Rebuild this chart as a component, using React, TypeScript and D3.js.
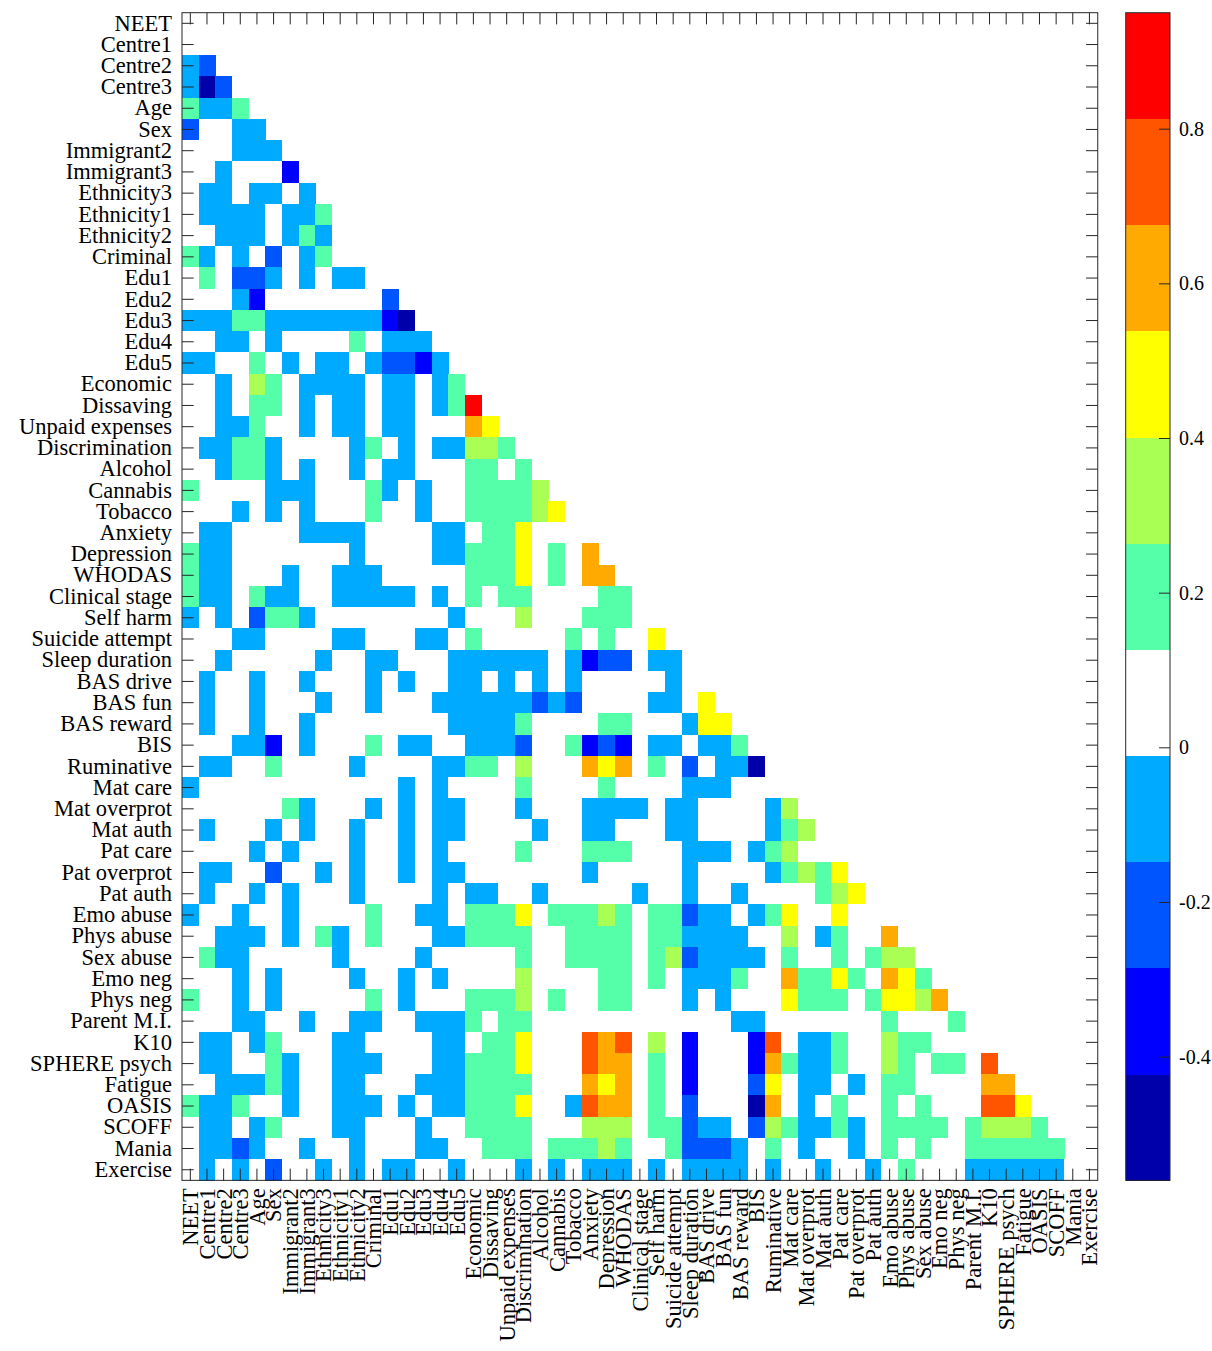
import React, { useRef, useEffect } from 'react';
import * as d3 from 'd3';

// Variable order (rows top to bottom, columns left to right)
const variables = [
  'NEET', 'Centre1', 'Centre2', 'Centre3', 'Age', 'Sex', 'Immigrant2', 'Immigrant3',
  'Ethnicity3', 'Ethnicity1', 'Ethnicity2', 'Criminal', 'Edu1', 'Edu2', 'Edu3', 'Edu4',
  'Edu5', 'Economic', 'Dissaving', 'Unpaid expenses', 'Discrimination', 'Alcohol',
  'Cannabis', 'Tobacco', 'Anxiety', 'Depression', 'WHODAS', 'Clinical stage', 'Self harm',
  'Suicide attempt', 'Sleep duration', 'BAS drive', 'BAS fun', 'BAS reward', 'BIS',
  'Ruminative', 'Mat care', 'Mat overprot', 'Mat auth', 'Pat care', 'Pat overprot',
  'Pat auth', 'Emo abuse', 'Phys abuse', 'Sex abuse', 'Emo neg', 'Phys neg',
  'Parent M.I.', 'K10', 'SPHERE psych', 'Fatigue', 'OASIS', 'SCOFF', 'Mania', 'Exercise',
];

// Lower triangle, one string per row, one character per column (columns 1..row-1).
// N/B/b/c = negative levels, '.' = ~0, a/g/y/o/r/R = positive levels
const rowCodes = [
  '',
  '.',
  'cb',
  'cNb',
  'acca',
  'b..cc',
  '...ccc',
  '..c...B',
  '.cc.cc.c',
  '.cccc.cca',
  '..ccc.cac.',
  'ac.c.b.ca..',
  '.a.bbc.c.cc.',
  '...cB.......b',
  'cccaacccccccBN',
  '..cc.c....a.ccc',
  'cc..a.c.cc.cbbBc',
  '..c.ga.cccc.cc.ca',
  '..c.aa.c.cc.cc.caR',
  '..cca..c.cc.cc...oy',
  '.ccaac....ca.c.ccgga',
  '..caac.c..c.cc...aa.a',
  'a....ccc...ac.c..aaaag',
  '...c.c.c...a..c..aaaagy',
  '.cc....cccc....cc.aay...',
  'acc.......c....ccaaay.a.o',
  'acc...c..ccc.....aaay.a.oo',
  'acc.acc..ccccc.c.a.aa....aa',
  'c.c.baac........c...g...aaa.',
  '...cc....cc...cc.a.....a.a..y',
  '..c.....c..cc...cccccc.cBbb.cc',
  '.c..c..c...c.c..cc.c.c.c.....c.',
  '.c..c...c..c...ccccccbcb....cc.y',
  '.c..c..c........cccca....aa...cyy',
  '...ccB.c...a.cc..cccb..aBbB.cc.cca',
  '.cc..a....c....ccaa.g...oyo.a.b.ccN',
  'c............c.c....a....a....ccc...',
  '......ac...c.c.cc...c...cccc.cc....cg',
  '.c...c.c..c..c.cc....c..cc...cc....cag',
  '....c.c...c..c.c....a...aaa...ccc.cag..',
  '.cc..b..c.c..c.cc.......c.....c....cagay',
  '.c..c.c...c....c.cc..c.....c..c..c....agy',
  'c..c..c....a..cc.aaay.aaaga.aabcc.cay..y..',
  '..ccc.c.ac.a...ccaaaa..aaaa.aacccc..g.ca..o',
  '.acc.....c....c.....a..aaaa.agbcccc.a..a.agg',
  '...c.c....c..c.c....g....aa.a.ccca..oaaya.oya',
  'a..c.c.....a.c...aaag.a..aa...c.c...yaaa.ayygo',
  '...cc..c..cc..ccca.aa............cc.......a...a',
  '.cc.ca...cc....cc.aay...ror.g.B...Br.cca..gaa...',
  '.cc..ac..ccc...ccaaay...roo.a.B...Boacca..ga.aa.r',
  '..cccac..cc...cccaaaa...oyo.a.B...by.cc.c.aa....oo',
  'acca..c..ccc.c.ccaaay..croo.a.b...No.c.a..a.a...rry',
  '.cc.ca...cc...c..aaaa...ggg.aabcc.bgaccac.aaaa.aggga',
  '.ccbc..c..c...cc..aaa.aaaga..abbbc.a.c..c.a.a..aaaaaa',
  '.c.c.b..c.c.cc..c...c.c.ccc.c.cccc.c..c..c.a...cccccc.',
];

// approximate correlation value read for each colour level
const levelValues: Record<string, number> = {
  N: -0.5, B: -0.36, b: -0.22, c: -0.08, '.': 0,
  a: 0.19, g: 0.33, y: 0.47, o: 0.6, r: 0.74, R: 0.88,
};

const colorDomain: [number, number] = [-0.56, 0.95];
const bandColors = [
  '#0000aa', '#0000ff', '#0055ff', '#00aaff', '#ffffff', '#55ffaa',
  '#aaff55', '#ffff00', '#ffaa00', '#ff5500', '#ff0000',
];
const colorbarTicks = [-0.4, -0.2, 0, 0.2, 0.4, 0.6, 0.8];

export default function App() {
  const svgRef = useRef<SVGSVGElement>(null);

  useEffect(() => {
    if (!svgRef.current) return;
    const svg = d3.select(svgRef.current);
    svg.selectAll('*').remove();

    const plot = { left: 182, top: 12.7, right: 1097.75, bottom: 1180.35 };
    const bar = { left: 1125.7, right: 1170 };
    const font = '"Liberation Serif", "Times New Roman", serif';
    const fontSize = 22.5;
    const axisColor = '#262626';
    const tickLen = 11.7;

    const x = d3.scaleBand<string>().domain(variables).range([plot.left, plot.right]);
    const y = d3.scaleBand<string>().domain(variables).range([plot.top, plot.bottom]);
    const color = d3.scaleQuantize<string>().domain(colorDomain).range(bandColors);

    const cells = rowCodes.flatMap((codes, r) =>
      codes.split('').map((ch, c) => ({
        row: variables[r],
        col: variables[c],
        value: levelValues[ch],
      }))
    );

    // heatmap cells
    svg.append('g')
      .attr('shape-rendering', 'crispEdges')
      .selectAll('rect')
      .data(cells)
      .join('rect')
      .attr('x', d => x(d.col)!)
      .attr('y', d => y(d.row)!)
      .attr('width', x.bandwidth() + 0.3)
      .attr('height', y.bandwidth() + 0.3)
      .attr('fill', d => color(d.value));

    const styleAxis = (g: d3.Selection<SVGGElement, unknown, null, undefined>, size = fontSize) => {
      g.select('.domain').remove();
      g.selectAll('line').attr('stroke', axisColor).attr('stroke-width', 1);
      g.selectAll('text')
        .attr('font-family', font)
        .attr('font-size', size)
        .attr('fill', '#000');
    };

    // left axis with labels
    const left = svg.append('g')
      .attr('transform', `translate(${plot.left},0)`)
      .call(d3.axisLeft(y).tickSize(-tickLen).tickSizeOuter(0).tickPadding(10));
    styleAxis(left);

    // bottom axis with rotated labels
    const bottom = svg.append('g')
      .attr('transform', `translate(0,${plot.bottom})`)
      .call(d3.axisBottom(x).tickSize(-tickLen).tickSizeOuter(0).tickPadding(8));
    styleAxis(bottom);
    bottom.selectAll('text')
      .attr('transform', 'rotate(-90)')
      .attr('x', -8)
      .attr('y', 0)
      .attr('dy', '0.35em')
      .attr('text-anchor', 'end');

    // mirrored ticks top and right
    const top = svg.append('g')
      .attr('transform', `translate(0,${plot.top})`)
      .call(d3.axisTop(x).tickSize(-tickLen).tickSizeOuter(0).tickFormat(() => ''));
    styleAxis(top);
    const right = svg.append('g')
      .attr('transform', `translate(${plot.right},0)`)
      .call(d3.axisRight(y).tickSize(-tickLen).tickSizeOuter(0).tickFormat(() => ''));
    styleAxis(right);

    // axes box
    svg.append('rect')
      .attr('x', plot.left)
      .attr('y', plot.top)
      .attr('width', plot.right - plot.left)
      .attr('height', plot.bottom - plot.top)
      .attr('fill', 'none')
      .attr('stroke', axisColor)
      .attr('stroke-width', 1);

    // colorbar
    const cScale = d3.scaleLinear().domain(colorDomain).range([plot.bottom, plot.top]);
    svg.append('g')
      .attr('shape-rendering', 'crispEdges')
      .selectAll('rect')
      .data(bandColors)
      .join('rect')
      .attr('x', bar.left)
      .attr('width', bar.right - bar.left)
      .attr('y', c => cScale(color.invertExtent(c)[1]))
      .attr('height', c => cScale(color.invertExtent(c)[0]) - cScale(color.invertExtent(c)[1]) + 0.3)
      .attr('fill', c => c);

    svg.append('rect')
      .attr('x', bar.left)
      .attr('y', plot.top)
      .attr('width', bar.right - bar.left)
      .attr('height', plot.bottom - plot.top)
      .attr('fill', 'none')
      .attr('stroke', axisColor)
      .attr('stroke-width', 1);

    const cAxis = svg.append('g')
      .attr('transform', `translate(${bar.right},0)`)
      .call(d3.axisRight(cScale)
        .tickValues(colorbarTicks)
        .tickSize(-11)
        .tickSizeOuter(0)
        .tickPadding(9)
        .tickFormat(d => String(d)));
    styleAxis(cAxis, 20);
  }, []);

  return (
    <div style={{ position: 'absolute', left: 0, top: 0, background: '#fff' }}>
      <svg ref={svgRef} width={1212} height={1351} style={{ display: 'block' }} />
    </div>
  );
}
